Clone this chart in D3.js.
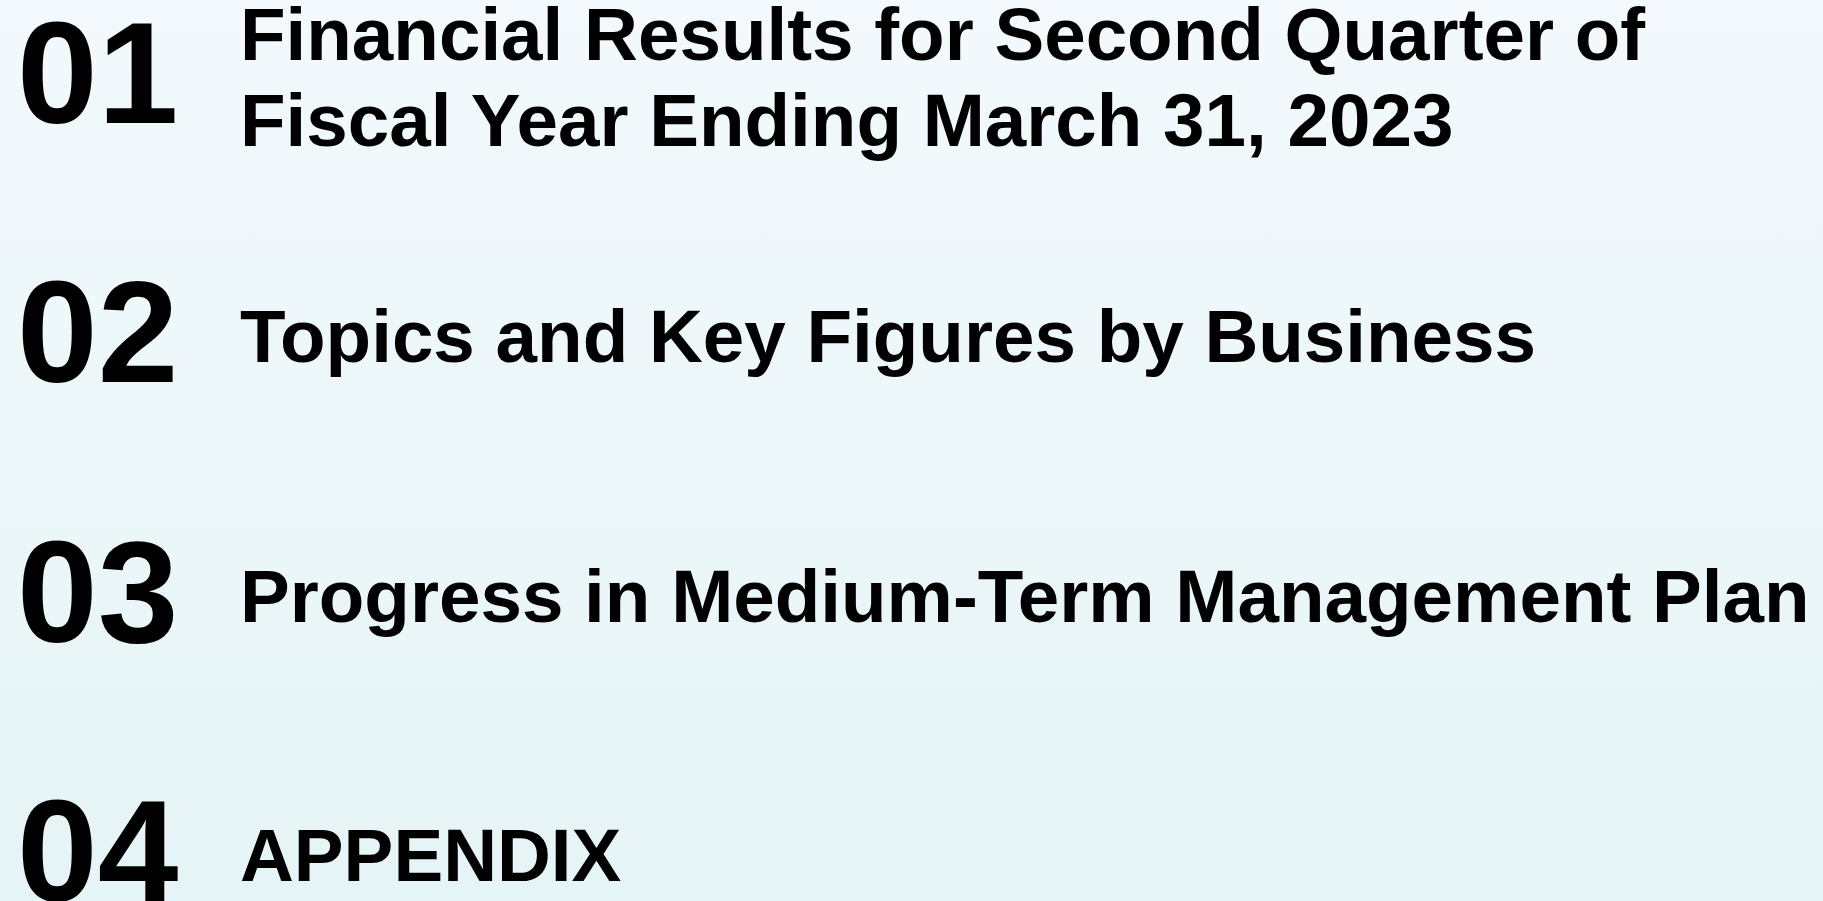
<!DOCTYPE html>
<html>
<head>
<meta charset="utf-8">
<script src="https://cdn.jsdelivr.net/npm/d3@7"></script>
<style>
  html, body { margin: 0; padding: 0; overflow: hidden; }
  svg { display: block; }
</style>
</head>
<body>
<div id="chart"></div>
<script>
(function() {

    var width = 1823,
    height = 901;

    // section numbers and their titles (titles can wrap into several lines)
    var sectionNumbers = ["01", "02", "03", "04"];
    var sectionTitles = [
        ["Financial Results for Second Quarter of", "Fiscal Year Ending March 31, 2023"],
        ["Topics and Key Figures by Business"],
        ["Progress in Medium-Term Management Plan"],
        ["APPENDIX"]
    ];

    var font = "'Liberation Sans', Arial, Helvetica, sans-serif";
    var lineHeight = 86;

    var svg = d3.select("#chart")
    .append("svg")
    .attr("width", width)
    .attr("height", height);

    var defs = svg.append("defs");
    var grad = defs.append("linearGradient")
    .attr("id", "bg")
    .attr("x1", 0).attr("y1", 0)
    .attr("x2", 0).attr("y2", 1);
    grad.append("stop").attr("offset", "0%").attr("stop-color", "#f3f9fc");
    grad.append("stop").attr("offset", "100%").attr("stop-color", "#e5f4f6");

    svg.append("rect")
    .attr("width", width)
    .attr("height", height)
    .attr("fill", "url(#bg)");

    // baseline of each big number
    var y = d3.scaleLinear()
    .domain([0, sectionNumbers.length - 1])
    .range([123, 901]);

    var rows = svg.selectAll(".row")
    .data(sectionNumbers)
    .enter().append("g")
    .attr("class", "row");

    rows.append("text")
    .attr("x", 17)
    .attr("y", function(d, i) { return y(i) })
    .attr("font-family", font)
    .attr("font-weight", "bold")
    .attr("font-size", 145)
    .attr("fill", "#000")
    .text(function(d) { return d });

    var titles = rows.append("text")
    .attr("font-family", font)
    .attr("font-weight", "bold")
    .attr("font-size", 74.6)
    .attr("fill", "#000");

    titles.selectAll("tspan")
    .data(function(d, i) {
        var lines = sectionTitles[i];
        var first = y(i) - 20 - (lines.length - 1) * lineHeight / 2;
        return lines.map(function(t, k) { return { text: t, y: first + k * lineHeight } });
    })
    .enter().append("tspan")
    .attr("x", 240)
    .attr("y", function(d) { return d.y })
    .text(function(d) { return d.text });

})();
</script>
</body>
</html>
